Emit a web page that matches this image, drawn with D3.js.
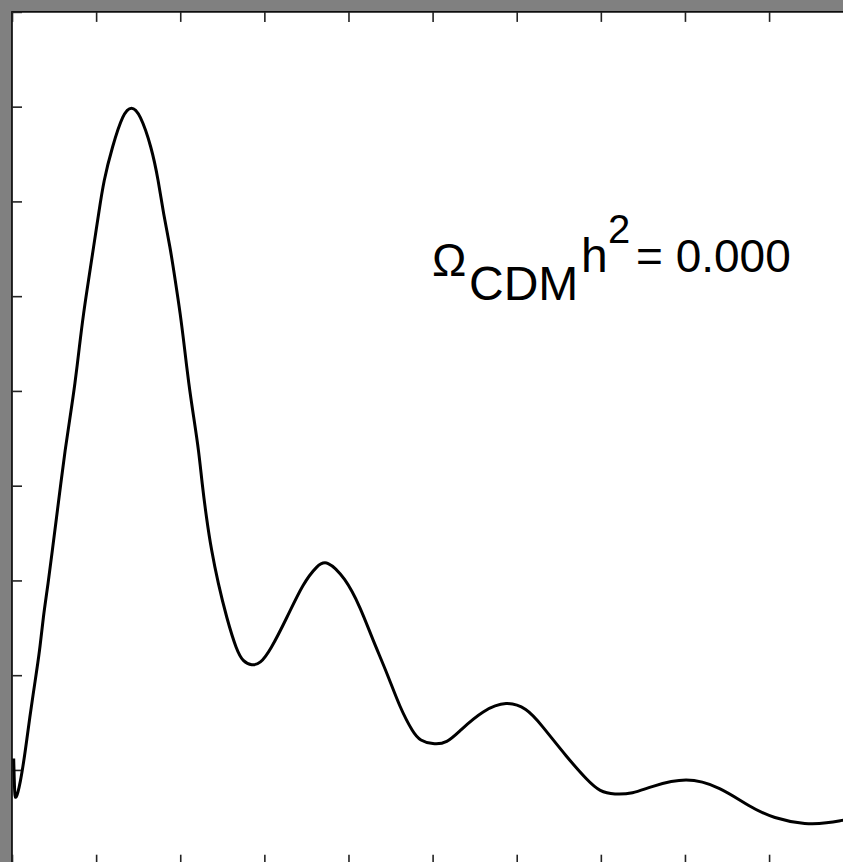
<!DOCTYPE html>
<html lang="en">
<head>
  <meta charset="UTF-8">
  <title>CMB spectrum</title>
  <script src="https://cdn.jsdelivr.net/npm/d3@7"></script>
  <style>
    html, body {
      width: 100%;
      height: 100%;
      padding: 0;
      margin: 0;
      overflow: hidden;
      background: #808080;
    }
    svg { display: block; }
    .label { font-family: "Liberation Sans", Arial, sans-serif; fill: #000; }
  </style>
</head>
<body>
  <svg id="chart" width="843" height="862"></svg>
  <script>
    // multipole l and power
    const ell = [2, 3, 4, 10, 16, 21, 27, 33, 37, 43, 48, 53, 58, 63, 69, 75, 80, 85, 91, 97,
      103, 109, 119, 132, 142, 152, 166, 174, 180, 188, 194, 200, 205, 210, 216, 222, 226, 231, 237, 245,
      255, 267, 275, 285, 295, 307, 327, 346, 363, 374, 396, 414, 429, 446, 461, 477, 485, 500, 517, 533,
      560, 588, 612, 628, 660, 684, 699, 716, 738, 758, 802, 842, 877, 905, 945, 969, 988];
    const power = [1120, 780, 660, 860, 1210, 1550, 1910, 2260, 2610, 2970, 3320, 3670, 4020, 4370, 4720, 5080, 5460, 5820, 6170, 6520,
      6870, 7220, 7570, 7930, 8010, 7930, 7570, 7220, 6870, 6520, 6170, 5820, 5460, 5080, 4720, 4370, 4020, 3670, 3320, 2970,
      2610, 2260, 2140, 2100, 2120, 2260, 2610, 2970, 3160, 3220, 3030, 2720, 2370, 2020, 1660, 1390, 1310, 1270, 1280, 1420,
      1630, 1730, 1650, 1490, 1130, 890, 770, 740, 750, 820, 930, 820, 610, 490, 420, 440, 470];
    const xTicks = [0, 100, 200, 300, 400, 500, 600, 700, 800, 900, 1000];
    const yTicks = [0, 1000, 2000, 3000, 4000, 5000, 6000, 7000, 8000, 9000];

    const x0 = 12, y0 = 11.9, x1 = 853.2, y1 = 864.7;
    const svg = d3.select('#chart');

    const x = d3.scaleLinear().domain([0, 1000]).range([x0, x1]);
    const y = d3.scaleLinear().domain([0, 9000]).range([y1, y0]);

    // plot area
    svg.append('rect')
      .attr('x', x0).attr('y', y0)
      .attr('width', x1 - x0).attr('height', y1 - y0)
      .attr('fill', '#fff')
      .attr('stroke', '#000')
      .attr('stroke-width', 1.6);

    const tick = 10;
    const axes = [
      d3.axisTop(x).tickValues(xTicks).tickSize(-tick).tickFormat(''),
      d3.axisBottom(x).tickValues(xTicks).tickSize(-tick).tickFormat(''),
      d3.axisLeft(y).tickValues(yTicks).tickSize(-tick).tickFormat('')
    ];
    const pos = [`translate(0,${y0})`, `translate(0,${y1})`, `translate(${x0},0)`];
    axes.forEach((a, i) => {
      const g = svg.append('g').attr('transform', pos[i]).call(a);
      g.select('.domain').remove();
      g.selectAll('line').attr('stroke', '#222').attr('stroke-width', 1.6);
    });

    const line = d3.line()
      .x((d, i) => x(ell[i]))
      .y(d => y(d))
      .curve(d3.curveBasis);

    svg.append('path')
      .datum(power)
      .attr('d', line)
      .attr('fill', 'none')
      .attr('stroke', '#000')
      .attr('stroke-width', 3)
      .attr('stroke-linejoin', 'round');

    // label
    const lab = svg.append('g').attr('class', 'label');
    lab.append('text').attr('x', 432).attr('y', 276).attr('font-size', 46).text('Ω');
    lab.append('text').attr('x', 469).attr('y', 300).attr('font-size', 48).text('CDM');
    lab.append('text').attr('x', 581).attr('y', 272).attr('font-size', 48).text('h');
    lab.append('text').attr('x', 608).attr('y', 243).attr('font-size', 40).text('2');
    lab.append('text').attr('x', 636).attr('y', 272).attr('font-size', 46).text('= 0.000');
  </script>
</body>
</html>
